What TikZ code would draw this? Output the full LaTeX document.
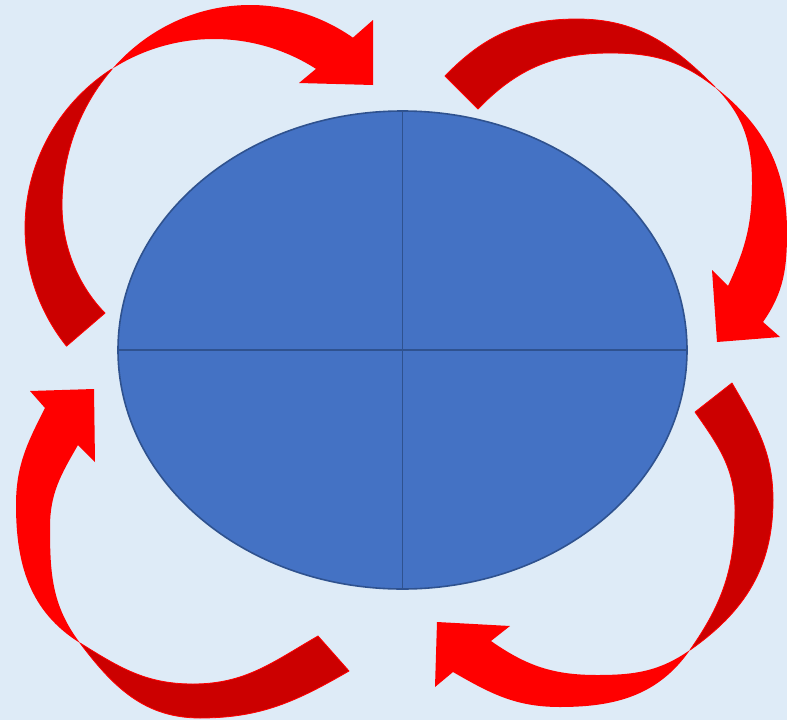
\documentclass[tikz,border=0pt]{standalone}
\usetikzlibrary{shapes.geometric}
\definecolor{bg}{HTML}{DEEBF7}
\definecolor{disc}{HTML}{4472C4}
\definecolor{discline}{HTML}{2F528F}
\definecolor{brightred}{HTML}{FF0000}
\definecolor{darkred}{HTML}{CC0000}
\tikzset{
  headpart/.style={fill=brightred},
  tailpart/.style={fill=darkred, draw=brightred, line width=0.8pt, line join=round},
  divider/.style={draw=discline, line width=1.8pt}
}
\begin{document}
\begin{tikzpicture}[x=1pt,y=1pt]
\fill[bg] (0,0) rectangle (787,-720);
\useasboundingbox (0,0) rectangle (787,-720);
% central ellipse
\node[ellipse, draw=discline, line width=1.6pt, fill=disc, minimum width=569pt, minimum height=478pt, inner sep=0pt] (disc) at (402.5,-350) {};
\draw[divider] (disc.north) -- (disc.south);
\draw[divider] (disc.west) -- (disc.east);
% ---------- arrow 1 (top-left) ----------
\path[tailpart] ([shift={(214,-228)}]218.7:189) arc[start angle=218.7, end angle=122.9, radius=189]
  -- ([shift={(250,-205)}]137.2:188 and 200) arc[x radius=188, y radius=200, start angle=137.2, end angle=180]
  arc[x radius=138, y radius=149, start angle=180, end angle=226.5] -- cycle;
\path[headpart] ([shift={(250,-205)}]137.2:188 and 200) arc[x radius=188, y radius=200, start angle=137.2, end angle=56.8]
  -- (373,-20) -- (373,-85) -- (299,-83) -- (317,-68)
  -- ([shift={(214,-228)}]57.2:189) arc[start angle=57.2, end angle=122.9, radius=189] -- cycle;
% ---------- arrow 2 (top-right) ----------
\path[tailpart] (445,-76) to[out=46,in=180] (577,-19) to[out=0,in=135] (715,-87)
  to[out=142,in=0] (610,-53) to[out=180,in=46] (478,-109) -- cycle;
\path[headpart] (715,-87) to[out=-38,in=90] (787,-232) to[out=-90,in=55] (763,-322)
  -- (780,-337) -- (717,-342) -- (712,-270) -- (728,-286)
  to[out=65,in=270] (752,-183) to[out=90,in=-45] (715,-87) -- cycle;
% ---------- arrow 3 (bottom-right) ----------
\path[tailpart] (732,-383) to[out=-60,in=90] (773,-500) to[out=-90,in=35] (690,-650)
  to[out=55,in=270] (735,-510) to[out=90,in=-55] (695,-412) -- cycle;
\path[headpart] (690,-650) to[out=-125,in=0] (560,-707) to[out=180,in=-30] (453,-672)
  -- (435,-687) -- (437,-622) -- (510,-626) -- (491,-641)
  to[out=-35,in=180] (597,-675) to[out=0,in=215] (690,-650) -- cycle;
% ---------- arrow 4 (bottom-left) ----------
\path[tailpart] (349,-671) to[out=210,in=0] (200,-718) to[out=180,in=-53] (80,-643)
  to[out=-32,in=180] (193,-684) to[out=0,in=210] (318,-636) -- cycle;
\path[headpart] (80,-643) to[out=148,in=270] (16,-505) to[out=90,in=243] (45,-408)
  -- (30,-391) -- (94,-389) -- (95,-462) -- (78,-445)
  to[out=240,in=90] (50,-527) to[out=270,in=127] (80,-643) -- cycle;
\end{tikzpicture}
\end{document}
